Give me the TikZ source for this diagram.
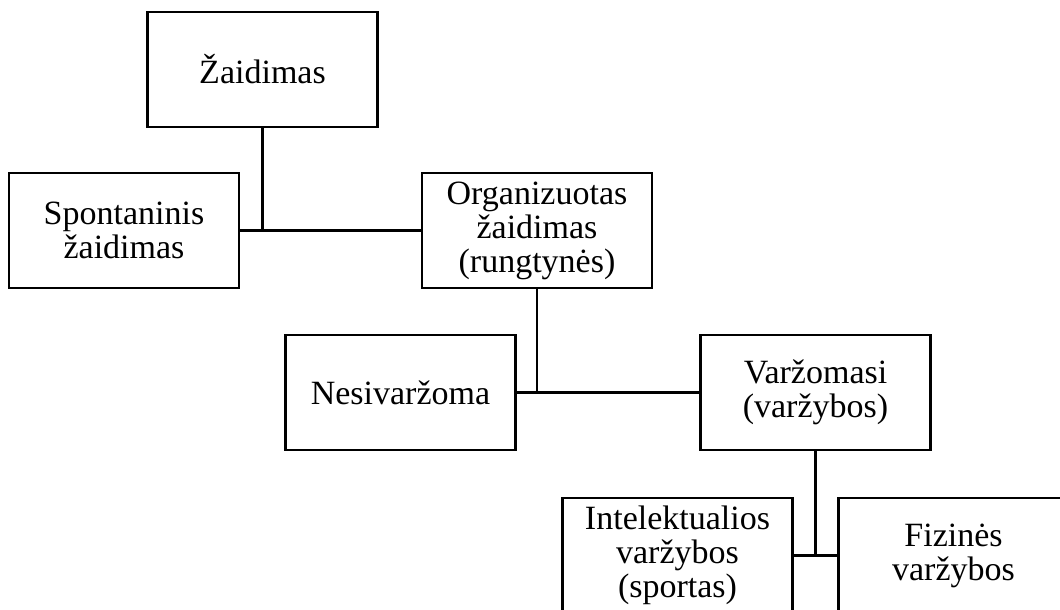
\documentclass[tikz,border=0pt]{standalone}
\usepackage{fontspec}
\setmainfont{Liberation Serif}
\begin{document}
\begin{tikzpicture}[x=0.75pt,y=-0.75pt,
  box/.style={draw=black,line width=1.9pt,fill=white,rectangle,minimum width=172.5pt,minimum height=86.25pt,inner sep=0pt,align=center,font=\fontsize{25.5}{25.5}\selectfont},
  link/.style={draw=black,line width=1.9pt}]
\useasboundingbox (0,0) rectangle (1060,610);
\node[box] (zaid) at (262.5,69.5) {Žaidimas};
\node[box] (spont) at (124,230.5) {Spontaninis\\žaidimas};
\node[box] (org) at (537,230.5) {Organizuotas\\žaidimas\\(rungtynės)};
\node[box] (nesi) at (400.5,392.5) {Nesivaržoma};
\node[box] (varz) at (815.5,392.5) {Varžomasi\\(varžybos)};
\node[box] (intel) at (677.5,555.5) {Intelektualios\\varžybos\\(sportas)};
\node[box] (fiz) at (953.5,555.5) {Fizinės\\varžybos};
\draw[link] (spont.east) -- (org.west);
\draw[link] (zaid.south) -- (zaid.south |- spont.east);
\draw[link] (nesi.east) -- (varz.west);
\draw[link] (org.south) -- (org.south |- nesi.east);
\draw[link] (intel.east) -- (fiz.west);
\draw[link] (varz.south) -- (varz.south |- intel.east);
\end{tikzpicture}
\end{document}
